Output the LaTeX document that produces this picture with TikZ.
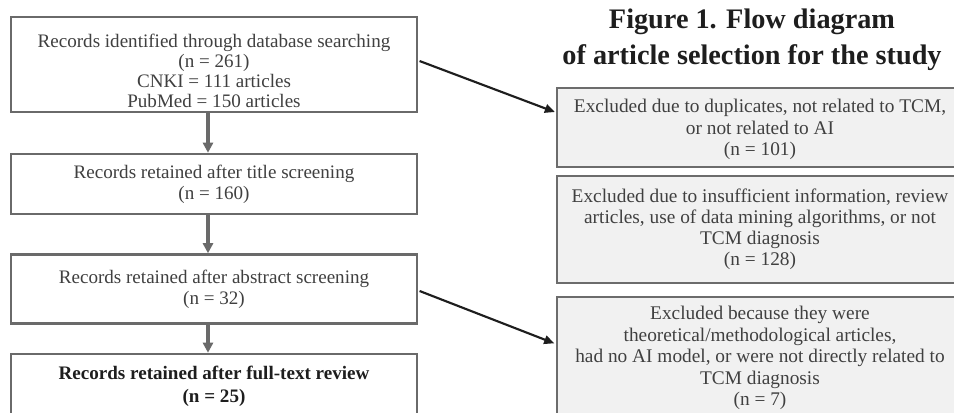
\documentclass[tikz,border=0pt]{standalone}
\usepackage{fontspec}
\setmainfont{Liberation Serif}
\usetikzlibrary{arrows.meta}
\definecolor{boxline}{HTML}{6A6A6A}
\definecolor{exline}{HTML}{6C6C6C}
\definecolor{exfill}{HTML}{F1F1F1}
\definecolor{txt}{HTML}{404040}
\definecolor{dark}{HTML}{1E1E1E}
\begin{document}
\begin{tikzpicture}[x=0.75pt,y=-0.75pt,
  leftbox/.style={draw=boxline,line width=1.9pt,fill=white,minimum width=304.5pt,inner sep=0pt,align=center,text=txt,font=\fontsize{14.3}{16}\selectfont},
  exbox/.style={draw=exline,line width=2.2pt,fill=exfill,minimum width=304.5pt,inner sep=0pt,align=center,text=txt,font=\fontsize{14.5}{16.2}\selectfont},
  boxtext/.style={inner sep=0pt,align=center,text=txt,font=\fontsize{14.3}{15}\selectfont},
  greyarrow/.style={draw=boxline,line width=2.3pt,-{Triangle[length=7.5pt,width=7.5pt]}},
  blackarrow/.style={draw=dark,line width=1.6pt,-{Triangle[length=7.5pt,width=6.5pt]}}
]
\clip (0,0) rectangle (954,413);
\fill[white] (0,0) rectangle (954,413);
% title
\node[text=dark,align=center,font=\bfseries\fontsize{21.2}{27}\selectfont] (title) at (752,40)
  {Figure 1. Flow diagram\\of article selection for the study};
% left column
\node[leftbox,minimum height=71.25pt] (b1) at (214,64.5) {};
\node[boxtext] (b1t) at (214,71)
  {Records identified through database searching\\(n = 261)\\CNKI = 111 articles\\PubMed = 150 articles};
\node[leftbox,minimum height=45pt] (b2) at (214,184)
  {Records retained after title screening\\(n = 160)};
\node[leftbox,minimum height=51.75pt] (b3) at (214,289)
  {Records retained after abstract screening\\(n = 32)};
\node[leftbox,minimum height=48pt,text=dark,font=\bfseries\fontsize{14.3}{17.5}\selectfont] (b4) at (214,386)
  {Records retained after full-text review\\(n = 25)};
% right column
\node[exbox,minimum height=59.25pt] (ea) at (760,127.5) {};
\node[boxtext,font=\fontsize{14.5}{16.2}\selectfont] (eat) at (760,129.5)
  {Excluded due to duplicates, not related to TCM,\\or not related to AI\\(n = 101)};
\node[exbox,minimum height=80.25pt,font=\fontsize{14.5}{15.8}\selectfont] (eb) at (760,229.5)
  {Excluded due to insufficient information, review\\articles, use of data mining algorithms, or not\\TCM diagnosis\\(n = 128)};
\node[exbox,minimum height=91.5pt] (ec) at (760,358)
  {Excluded because they were\\theoretical/methodological articles,\\had no AI model, or were not directly related to\\TCM diagnosis\\(n = 7)};
% grey arrows
\draw[greyarrow] ([xshift=-4.5pt]b1.south) -- ([xshift=-4.5pt]b2.north);
\draw[greyarrow] ([xshift=-4.5pt]b2.south) -- ([xshift=-4.5pt]b3.north);
\draw[greyarrow] ([xshift=-4.5pt]b3.south) -- ([xshift=-4.5pt]b4.north);
% black arrows
\draw[blackarrow] ([yshift=2.6pt,xshift=1pt]b1.east) -- ([yshift=11.6pt,xshift=-0.5pt]ea.west);
\draw[blackarrow] ([yshift=-1.5pt,xshift=1pt]b3.east) -- ([yshift=11pt,xshift=-1pt]ec.west);
\end{tikzpicture}
\end{document}
